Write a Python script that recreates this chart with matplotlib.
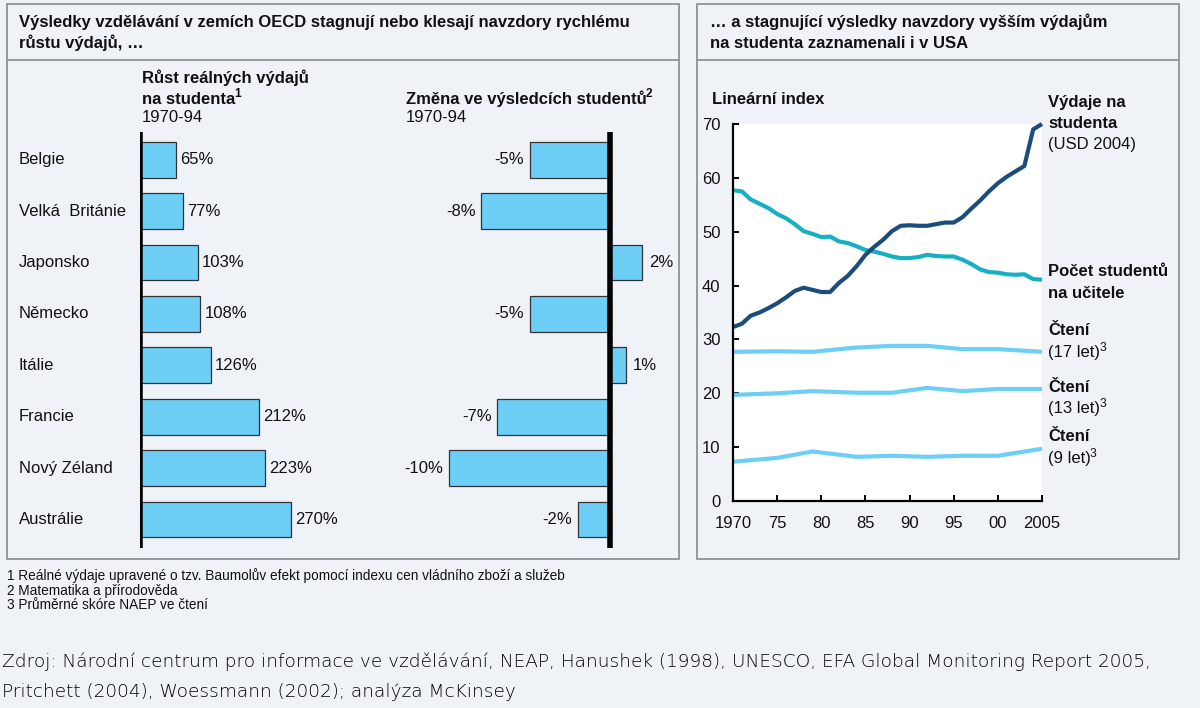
import matplotlib
matplotlib.use("Agg")
import matplotlib.pyplot as plt
from matplotlib.patches import Rectangle
from matplotlib.lines import Line2D

# ---------------- data ----------------
countries = ['Belgie', 'Velká  Británie', 'Japonsko', 'Německo', 'Itálie',
             'Francie', 'Nový Zéland', 'Austrálie']
spend_growth = [65, 77, 103, 108, 126, 212, 223, 270]
score_change = [-5, -8, 2, -5, 1, -7, -10, -2]

years = list(range(1970, 2006))
spending = [32.3, 32.9, 34.4, 35.0, 35.8, 36.7, 37.8, 39.0, 39.6, 39.2,
            38.8, 38.8, 40.5, 41.8, 43.6, 45.7, 47.2, 48.5, 50.1, 51.1,
            51.2, 51.1, 51.1, 51.4, 51.7, 51.7, 52.7, 54.3, 55.8, 57.5,
            59.0, 60.2, 61.2, 62.2, 69.0, 70.0]
students_per_teacher = [57.7, 57.5, 56.0, 55.2, 54.4, 53.3, 52.5, 51.4, 50.1, 49.6,
                        49.0, 49.1, 48.2, 47.9, 47.3, 46.6, 46.3, 45.9, 45.4, 45.1,
                        45.1, 45.3, 45.7, 45.5, 45.4, 45.4, 44.8, 44.0, 43.0, 42.5,
                        42.4, 42.1, 42.0, 42.1, 41.2, 41.1]
naep_years = [1970, 1975, 1979, 1984, 1988, 1992, 1996, 2000, 2005]
reading17 = [27.7, 27.8, 27.7, 28.5, 28.8, 28.8, 28.2, 28.2, 27.7]
reading13 = [19.7, 20.0, 20.4, 20.1, 20.1, 21.0, 20.4, 20.8, 20.8]
reading9 = [7.3, 8.0, 9.2, 8.2, 8.4, 8.2, 8.4, 8.4, 9.7]

xtick_vals = [1970, 1975, 1980, 1985, 1990, 1995, 2000, 2005]
xtick_labels = ['1970', '75', '80', '85', '90', '95', '00', '2005']
ytick_vals = [0, 10, 20, 30, 40, 50, 60, 70]

# ---------------- style ----------------
BG = '#eff3f7'
BAR = '#6dcff6'
NAVY = '#1c4c7c'
TEAL = '#17b0c2'
LIGHT = '#6dcff6'
BORDER = '#8e9398'
FONT = ['Liberation Sans', 'DejaVu Sans']
FS = 12
plt.rcParams['font.family'] = FONT

W, H = 1200, 708
fig = plt.figure(figsize=(W / 100, H / 100), dpi=100, facecolor=BG)
renderer = fig.canvas.get_renderer()


def fx(x):
    return x / W


def fy(y):
    return 1 - y / H


def add_axes_px(x0, y0, x1, y1, **kw):
    return fig.add_axes([fx(x0), fy(y1), (x1 - x0) / W, (y1 - y0) / H], **kw)


def txt(x, y, s, sup=None, **kw):
    kw.setdefault('va', 'center')
    kw.setdefault('ha', 'left')
    kw.setdefault('fontsize', FS)
    kw.setdefault('color', '#111111')
    t = fig.text(fx(x), fy(y), s, **kw)
    if sup is not None:
        ext = t.get_window_extent(renderer)
        skw = dict(kw)
        skw['fontsize'] = kw['fontsize'] * 0.72
        fig.text(fx(ext.x1 - 1), fy(y - 5), sup, **skw)
    return t


def rect_px(x0, y0, x1, y1):
    fig.add_artist(Rectangle((fx(x0), fy(y1)), (x1 - x0) / W, (y1 - y0) / H,
                             transform=fig.transFigure, fill=False,
                             edgecolor=BORDER, lw=1.3))


def hline_px(x0, x1, y):
    fig.add_artist(Line2D([fx(x0), fx(x1)], [fy(y), fy(y)],
                          transform=fig.transFigure, color=BORDER, lw=1.3))


# panel frames
rect_px(7, 4, 679, 559)
hline_px(7, 679, 60)
rect_px(697, 4, 1179, 559)
hline_px(697, 1179, 60)

# titles
txt(19, 22, 'Výsledky vzdělávání v zemích OECD stagnují nebo klesají navzdory rychlému',
    fontweight='bold')
txt(19, 43, 'růstu výdajů, …', fontweight='bold')
txt(710, 22, '… a stagnující výsledky navzdory vyšším výdajům', fontweight='bold')
txt(710, 43, 'na studenta zaznamenali i v USA', fontweight='bold')

# left panel headers
txt(142, 78, 'Růst reálných výdajů', fontweight='bold')
txt(142, 99, 'na studenta', sup='1', fontweight='bold')
txt(142, 118, '1970-94')
txt(406, 99, 'Změna ve výsledcích studentů', sup='2', fontweight='bold')
txt(406, 118, '1970-94')

# ---------------- bar charts ----------------
n = len(countries)
top_px, bot_px = 132, 548
first_c, step = 159.7, 51.4
ylim_top = -(first_c - top_px) / step
ylim_bot = (n - 1) + (bot_px - (first_c + step * (n - 1))) / step
bar_h = 0.70

# chart 1
scale1 = 0.56  # px per %
x0_1, zero1, x1_1 = 140, 140, 360
ax1 = add_axes_px(x0_1, top_px, x1_1, bot_px)
ax1.set_xlim((x0_1 - zero1) / scale1, (x1_1 - zero1) / scale1)
ax1.set_ylim(ylim_bot, ylim_top)
ax1.barh(range(n), spend_growth, height=bar_h, color=BAR, edgecolor='#333333', lw=0.9,
         zorder=2)
ax1.axvline(0, color='black', lw=4, zorder=3)
for i, v in enumerate(spend_growth):
    ax1.annotate(f'{v}%', (v, i), xytext=(3, 0), textcoords='offset points',
                 va='center', ha='left', fontsize=FS, color='#111111')
ax1.axis('off')

for i, c in enumerate(countries):
    txt(19, first_c + step * i, c)

# chart 2
scale2 = 16.1
x0_2, zero2, x1_2 = 400, 610, 680
ax2 = add_axes_px(x0_2, top_px, x1_2, bot_px)
ax2.set_xlim((x0_2 - zero2) / scale2, (x1_2 - zero2) / scale2)
ax2.set_ylim(ylim_bot, ylim_top)
ax2.barh(range(n), score_change, height=bar_h, color=BAR, edgecolor='#333333', lw=0.9,
         zorder=2)
ax2.axvline(0, color='black', lw=4, zorder=3)
for i, v in enumerate(score_change):
    if v < 0:
        ax2.annotate(f'{v}%', (v, i), xytext=(-4, 0), textcoords='offset points',
                     va='center', ha='right', fontsize=FS, color='#111111')
    else:
        ax2.annotate(f'{v}%', (v, i), xytext=(5, 0), textcoords='offset points',
                     va='center', ha='left', fontsize=FS, color='#111111')
ax2.axis('off')

# ---------------- line chart ----------------
ax3 = add_axes_px(733, 124, 1042, 501)
ax3.set_facecolor('white')
ax3.set_xlim(1970, 2005)
ax3.set_ylim(0, 70)
ax3.plot(naep_years, reading17, color=LIGHT, lw=3, solid_capstyle='butt', clip_on=False)
ax3.plot(naep_years, reading13, color=LIGHT, lw=3, solid_capstyle='butt', clip_on=False)
ax3.plot(naep_years, reading9, color=LIGHT, lw=3, solid_capstyle='butt', clip_on=False)
ax3.plot(years, students_per_teacher, color=TEAL, lw=3, solid_capstyle='butt', clip_on=False)
ax3.plot(years, spending, color=NAVY, lw=3, solid_capstyle='butt', clip_on=False)
for s in ['top', 'right']:
    ax3.spines[s].set_visible(False)
for s in ['left', 'bottom']:
    ax3.spines[s].set_linewidth(1.6)
    ax3.spines[s].set_color('black')
ax3.set_xticks(xtick_vals)
ax3.set_xticklabels(xtick_labels)
ax3.set_yticks(ytick_vals)
ax3.tick_params(axis='both', direction='in', length=4, width=1.4, labelsize=FS,
                colors='black', labelcolor='#111111')
ax3.tick_params(axis='x', pad=11)
ax3.tick_params(axis='y', pad=9)

txt(712, 100, 'Lineární index', fontweight='bold')
txt(1048, 103, 'Výdaje na', fontweight='bold')
txt(1048, 124, 'studenta', fontweight='bold')
txt(1048, 144, '(USD 2004)')
txt(1048, 272, 'Počet studentů', fontweight='bold')
txt(1048, 294, 'na učitele', fontweight='bold')
txt(1048, 331, 'Čtení', fontweight='bold')
txt(1048, 353, '(17 let)', sup='3')
txt(1048, 388, 'Čtení', fontweight='bold')
txt(1048, 409, '(13 let)', sup='3')
txt(1048, 437, 'Čtení', fontweight='bold')
txt(1048, 459, '(9 let)', sup='3')

# ---------------- footnotes & source ----------------
FN = 9.8
txt(7, 576, '1 Reálné výdaje upravené o tzv. Baumolův efekt pomocí indexu cen vládního zboží a služeb',
    fontsize=FN)
txt(7, 591, '2 Matematika a přírodověda', fontsize=FN)
txt(7, 605, '3 Průměrné skóre NAEP ve čtení', fontsize=FN)

src_font = ['DejaVu Sans']
txt(2, 662, 'Zdroj: Národní centrum pro informace ve vzdělávání, NEAP, Hanushek (1998), '
            'UNESCO, EFA Global Monitoring Report 2005,',
    fontsize=13.3, fontweight='light', family=src_font, color='#000000')
txt(2, 692, 'Pritchett (2004), Woessmann (2002); analýza McKinsey',
    fontsize=13.3, fontweight='light', family=src_font, color='#000000')

fig.savefig('out.png', dpi=100, facecolor=BG)
